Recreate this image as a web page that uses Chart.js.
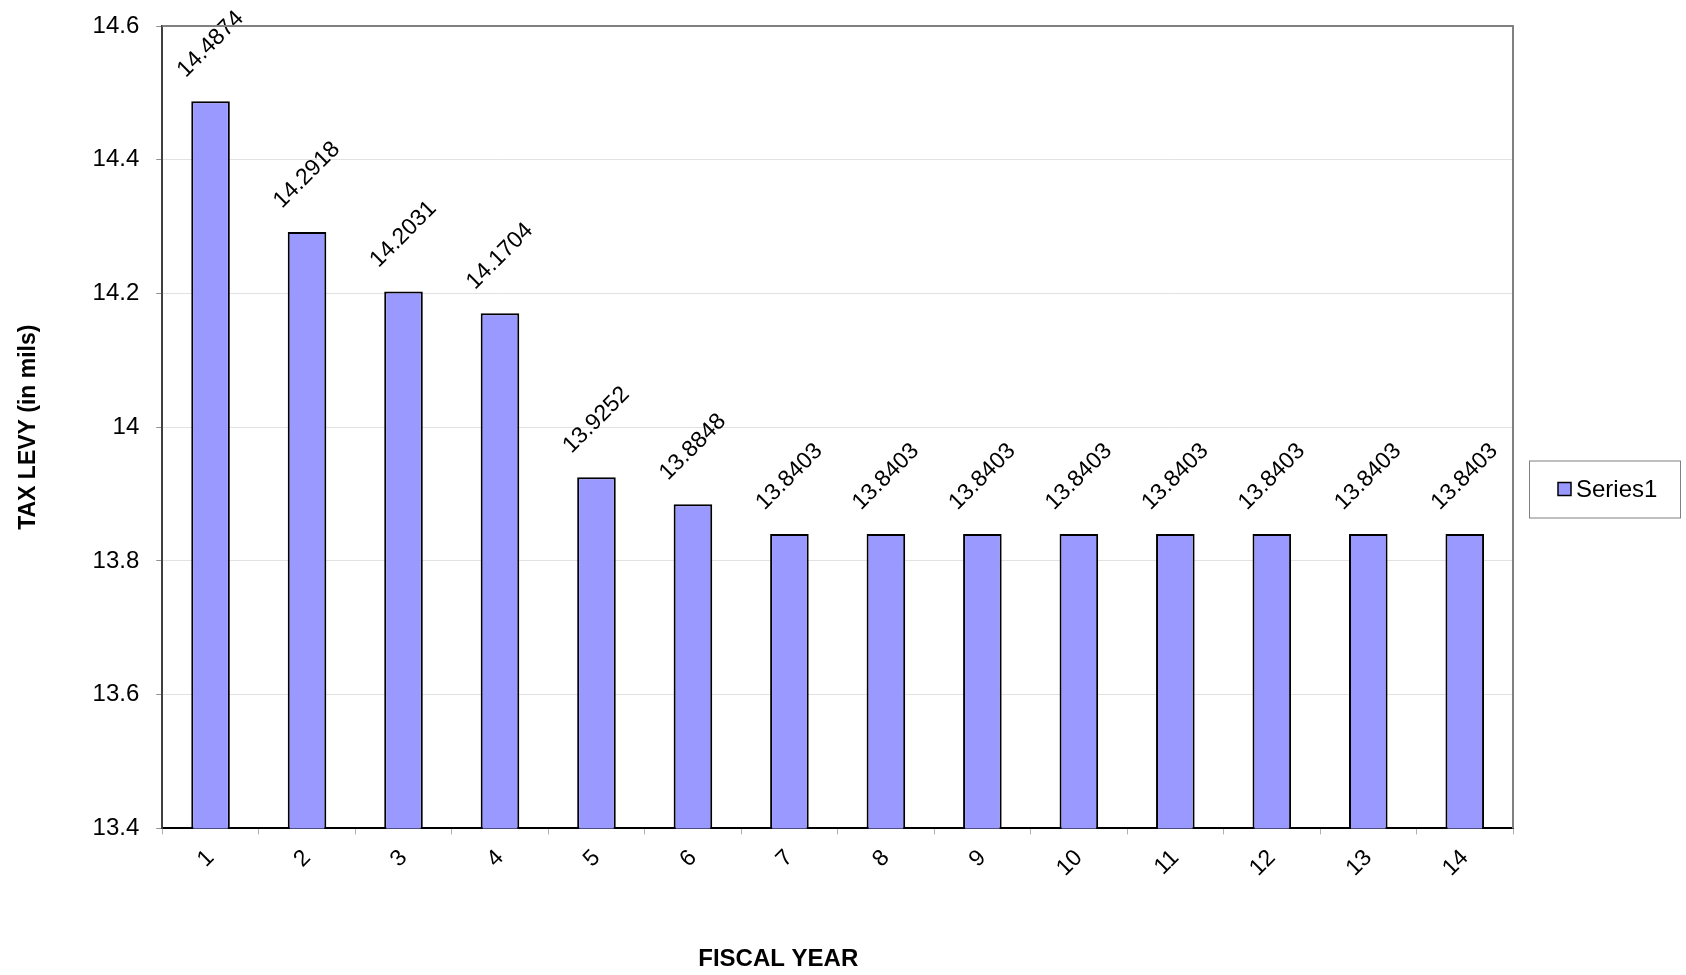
<!DOCTYPE html>
<html>
<head>
<meta charset="utf-8">
<title>Tax Levy by Fiscal Year</title>
<script src="https://cdn.jsdelivr.net/npm/chart.js@4/dist/chart.umd.min.js"></script>
<style>
  html, body { margin: 0; padding: 0; background: #ffffff; }
  #wrap { width: 1686px; height: 975px; position: relative; }
</style>
</head>
<body>
<div id="wrap"><canvas id="levyChart"></canvas></div>
<script>
// Chart data
const fiscalYears = ['1', '2', '3', '4', '5', '6', '7', '8', '9', '10', '11', '12', '13', '14'];
const taxLevy = [14.4874, 14.2918, 14.2031, 14.1704, 13.9252, 13.8848, 13.8403,
                 13.8403, 13.8403, 13.8403, 13.8403, 13.8403, 13.8403, 13.8403];
const yTickLabels = ['13.4', '13.6', '13.8', '14', '14.2', '14.4', '14.6'];
const seriesName = 'Series1';
const xAxisTitle = 'FISCAL YEAR';
const yAxisTitle = 'TAX LEVY (in mils)';

const FONT = "'Liberation Sans', Arial, Helvetica, sans-serif";
const BAR_FILL = '#9999FF';
Chart.defaults.font.family = FONT;
Chart.defaults.color = '#000000';

// Rotated value labels above each bar
const valueLabels = {
  id: 'valueLabels',
  afterDatasetsDraw(chart) {
    const { ctx } = chart;
    const meta = chart.getDatasetMeta(0);
    const values = chart.data.datasets[0].data;
    ctx.save();
    ctx.font = '23px ' + FONT;
    ctx.fillStyle = '#000000';
    ctx.textAlign = 'center';
    ctx.textBaseline = 'middle';
    meta.data.forEach((bar, i) => {
      ctx.save();
      ctx.translate(bar.x, bar.y - 57);
      ctx.rotate(-Math.PI / 4);
      ctx.fillText(String(values[i]), 0, 0);
      ctx.restore();
    });
    ctx.restore();
  }
};

// Grey frame on the top and right of the plot area
const plotFrame = {
  id: 'plotFrame',
  afterDraw(chart) {
    const { ctx, chartArea: a } = chart;
    ctx.save();
    ctx.strokeStyle = '#808080';
    ctx.lineWidth = 2;
    ctx.beginPath();
    ctx.moveTo(a.left, a.top);
    ctx.lineTo(a.right, a.top);
    ctx.lineTo(a.right, a.bottom);
    ctx.stroke();
    ctx.restore();
  }
};

// Boxed legend at the right and the category axis title
const sideLegend = {
  id: 'sideLegend',
  afterDraw(chart) {
    const { ctx, chartArea: a } = chart;
    const ds = chart.data.datasets[0];
    const boxX = a.right + 16, boxW = 151, boxH = 57;
    const boxY = chart.height / 2 - 27;
    ctx.save();
    ctx.strokeStyle = '#808080';
    ctx.lineWidth = 1;
    ctx.strokeRect(boxX + 0.5, boxY + 0.5, boxW, boxH);
    const sw = 13, sx = boxX + 29, sy = boxY + 22;
    ctx.fillStyle = ds.backgroundColor;
    ctx.fillRect(sx, sy, sw, sw);
    ctx.strokeStyle = '#000000';
    ctx.lineWidth = 1.5;
    ctx.strokeRect(sx, sy, sw, sw);
    ctx.fillStyle = '#000000';
    ctx.font = '24px ' + FONT;
    ctx.textAlign = 'left';
    ctx.textBaseline = 'middle';
    ctx.fillText(ds.label, sx + sw + 5, sy + sw / 2 + 1);

    ctx.font = 'bold 24px ' + FONT;
    ctx.textAlign = 'center';
    ctx.fillText(xAxisTitle, a.left + (a.right - a.left) * 0.456, chart.height - 16);
    ctx.restore();
  }
};

new Chart(document.getElementById('levyChart'), {
  type: 'bar',
  data: {
    labels: fiscalYears,
    datasets: [{
      label: seriesName,
      data: taxLevy,
      backgroundColor: BAR_FILL,
      borderColor: '#000000',
      borderWidth: 2,
      borderSkipped: false,
      barPercentage: 0.4,
      categoryPercentage: 1.0
    }]
  },
  options: {
    responsive: true,
    maintainAspectRatio: false,
    animation: false,
    devicePixelRatio: 1,
    layout: { padding: { top: 26, right: 173, bottom: 83, left: 0 } },
    plugins: {
      legend: { display: false },
      tooltip: { enabled: false },
      title: { display: false }
    },
    scales: {
      x: {
        offset: true,
        grid: {
          offset: true,
          drawOnChartArea: false,
          drawTicks: true,
          tickLength: 6,
          tickColor: '#b0b0b0'
        },
        border: { color: '#000000', width: 2 },
        ticks: {
          font: { size: 23 },
          color: '#000000',
          minRotation: 45,
          maxRotation: 45,
          padding: 10,
          labelOffset: 0,
          autoSkip: false
        }
      },
      y: {
        min: 13.4,
        max: 14.6,
        grid: {
          color: '#e2e2e2',
          lineWidth: 1,
          drawTicks: true,
          tickLength: 6,
          tickColor: '#909090'
        },
        border: { color: '#404040', width: 2 },
        ticks: {
          stepSize: 0.2,
          font: { size: 24, lineHeight: 0.6 },
          color: '#000000',
          padding: 17,
          callback: (value, index) => yTickLabels[index]
        },
        title: {
          display: true,
          text: yAxisTitle,
          font: { size: 23, weight: 'bold' },
          color: '#000000',
          padding: { top: 15, bottom: 33 }
        }
      }
    }
  },
  plugins: [valueLabels, plotFrame, sideLegend]
});
</script>
</body>
</html>
